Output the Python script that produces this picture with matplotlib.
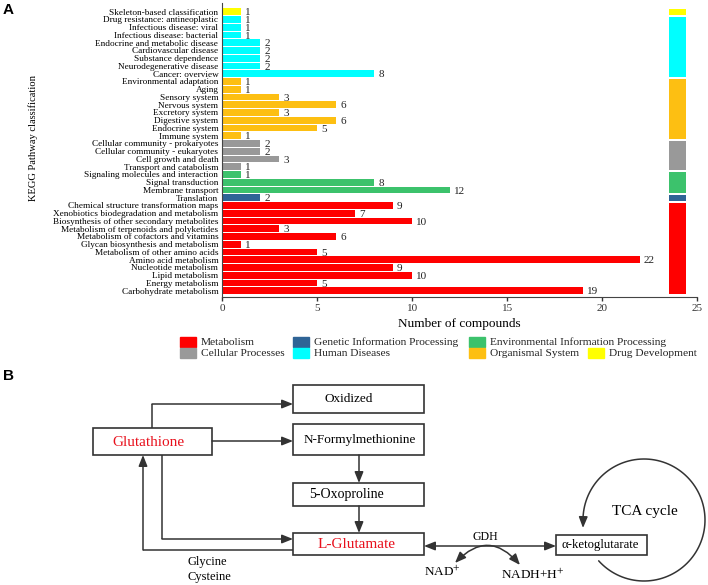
import numpy as np
import matplotlib
matplotlib.use('Agg')
import matplotlib.pyplot as plt
from matplotlib.patches import Rectangle, FancyArrowPatch
from matplotlib.path import Path

plt.rcParams['font.family'] = ['Liberation Serif', 'DejaVu Serif']
plt.rcParams['mathtext.fontset'] = 'stix'

# ---- data (panel A), listed top to bottom ----
categories = [
    'Skeleton-based classification',
    'Drug resistance: antineoplastic', 'Infectious disease: viral',
    'Infectious disease: bacterial', 'Endocrine and metabolic disease',
    'Cardiovascular disease', 'Substance dependence',
    'Neurodegenerative disease', 'Cancer: overview',
    'Environmental adaptation', 'Aging', 'Sensory system', 'Nervous system',
    'Excretory system', 'Digestive system', 'Endocrine system', 'Immune system',
    'Cellular community - prokaryotes', 'Cellular community - eukaryotes',
    'Cell growth and death', 'Transport and catabolism',
    'Signaling molecules and interaction', 'Signal transduction',
    'Membrane transport',
    'Translation',
    'Chemical structure transformation maps',
    'Xenobiotics biodegradation and metabolism',
    'Biosynthesis of other secondary metabolites',
    'Metabolism of terpenoids and polyketides',
    'Metabolism of cofactors and vitamins',
    'Glycan biosynthesis and metabolism', 'Metabolism of other amino acids',
    'Amino acid metabolism', 'Nucleotide metabolism', 'Lipid metabolism',
    'Energy metabolism', 'Carbohydrate metabolism',
]
counts = [1,
          1, 1, 1, 2, 2, 2, 2, 8,
          1, 1, 3, 6, 3, 6, 5, 1,
          2, 2, 3, 1,
          1, 8, 12,
          2,
          9, 7, 10, 3, 6, 1, 5, 22, 9, 10, 5, 19]

# groups in the order they appear from the top, with how many rows each
group_names = ['Drug Development', 'Human Diseases', 'Organismal System',
               'Cellular Processes', 'Environmental Information Processing',
               'Genetic Information Processing', 'Metabolism']
group_sizes = [1, 8, 8, 4, 3, 1, 12]
group_colors = {
    'Metabolism': '#ff0000',
    'Genetic Information Processing': '#2f6496',
    'Environmental Information Processing': '#3cc26c',
    'Cellular Processes': '#999999',
    'Human Diseases': '#00ffff',
    'Organismal System': '#fdbf12',
    'Drug Development': '#ffff00',
}

row_group = []
for g, s in zip(group_names, group_sizes):
    row_group += [g] * s
bar_colors = [group_colors[g] for g in row_group]

fig = plt.figure(figsize=(7.08, 5.85), dpi=100)
W, H = 708, 585

# ---- panel A ----
ax = fig.add_axes([222.5 / W, 1 - 297 / H, 474.5 / W, 294 / H])
y = np.arange(len(categories))
ax.barh(y, counts, height=0.86, color=bar_colors)
for yi, c in zip(y, counts):
    ax.text(c + 0.2, yi + 0.15, str(c), va='center', ha='left', fontsize=8,
            color='#222222')

# group colour strip on the right
start = 0
for g, s in zip(group_names, group_sizes):
    ax.barh(start + (s - 1) / 2, 0.85, left=23.55, height=s - 0.25,
            color=group_colors[g])
    start += s

ax.set_xlim(0, 25)
ax.set_ylim(len(categories) - 1 + 0.81, -1.12)
ax.set_yticks(y)
ax.set_yticklabels(categories, fontsize=6.7)
ax.tick_params(axis='y', length=0, pad=3)
ax.set_xticks([0, 5, 10, 15, 20, 25])
ax.tick_params(axis='x', length=3, width=1, labelsize=8, pad=2,
               colors='#333333')
ax.spines['top'].set_visible(False)
ax.spines['right'].set_visible(False)
ax.spines['left'].set_color('#444444')
ax.spines['bottom'].set_color('#444444')
ax.set_xlabel('Number of compounds', fontsize=9.5, labelpad=4)
ax.set_ylabel('KEGG Pathway classification', fontsize=7.6)
ax.yaxis.set_label_coords((38 - 222.5) / 474.5, (297 - 138) / 294)

# ---- overlay in pixel coordinates: legend, labels, panel B ----
ov = fig.add_axes([0, 0, 1, 1])
ov.set_xlim(0, W)
ov.set_ylim(H, 0)
ov.axis('off')

ov.text(3, 10, 'A', fontsize=11, fontweight='bold', family='Liberation Sans',
        va='center')
ov.text(3, 376, 'B', fontsize=11, fontweight='bold', family='Liberation Sans',
        va='center')

legend_order = ['Metabolism', 'Genetic Information Processing',
                'Environmental Information Processing', 'Cellular Processes',
                'Human Diseases', 'Organismal System', 'Drug Development']
legend_pos = [(180, 337), (293, 337), (469, 337), (180, 348), (293, 348),
              (469, 348), (588, 348)]
for name, (lx, ly) in zip(legend_order, legend_pos):
    ov.add_patch(Rectangle((lx, ly), 16, 10, color=group_colors[name]))
    ov.text(lx + 21, ly + 5.5, name, fontsize=8.2, va='center', ha='left',
            color='#222222')

# panel B
lc = '#333333'


def box(x0, y0, x1, y1):
    ov.add_patch(Rectangle((x0, y0), x1 - x0, y1 - y0, fill=False,
                           edgecolor=lc, lw=1.2))


def arrow(p0, p1, style='-|>'):
    ov.add_patch(FancyArrowPatch(p0, p1, arrowstyle=style + ',head_length=0.55,head_width=0.22',
                                 mutation_scale=12, color=lc, lw=1.1,
                                 shrinkA=0, shrinkB=0))


def line(xs, ys):
    ov.plot(xs, ys, color=lc, lw=1.1, solid_capstyle='butt')


box(293, 385, 424, 413)
box(93, 428, 212, 455)
box(293, 424, 424, 455)
box(293, 483, 424, 506)
box(293, 533, 424, 555)
box(556, 535, 647, 555)

ov.text(349, 399, 'Oxidized', fontsize=9.5, ha='center', va='center')
ov.text(148, 442, 'Glutathione', fontsize=11, ha='center', va='center',
        color='#e8101c')
ov.text(360, 440, 'N-Formylmethionine', fontsize=9.5, ha='center', va='center')
ov.text(346, 494.5, '5-Oxoproline', fontsize=10, ha='center', va='center')
ov.text(357, 544, 'L-Glutamate', fontsize=11, ha='center', va='center',
        color='#e8101c')
ov.text(600, 545, '\u03b1-ketoglutarate', fontsize=9.2, ha='center',
        va='center')

line([152, 152], [428, 404])
arrow((152, 404), (293, 404))
arrow((212, 441), (293, 441))
arrow((359, 455), (359, 483))
arrow((359, 506), (359, 533))
line([162, 162], [455, 539])
arrow((162, 539), (293, 539))
line([293, 143], [550, 550])
arrow((143, 550), (143, 455))

arrow((424, 546), (556, 546), style='<|-|>')
ov.text(485, 537, 'GDH', fontsize=8.5, ha='center', va='center')
ov.add_patch(FancyArrowPatch((455, 563), (520, 565),
                             connectionstyle='arc3,rad=-0.55',
                             arrowstyle='<|-|>,head_length=0.55,head_width=0.22',
                             mutation_scale=12, color=lc, lw=1.1,
                             shrinkA=0, shrinkB=0))
ov.text(442, 572, r'NAD$^{+}$', fontsize=9.5, ha='center', va='center')
ov.text(533, 575, r'NADH+H$^{+}$', fontsize=9.5, ha='center', va='center')
ov.text(187, 562, 'Glycine', fontsize=9, ha='left', va='center')
ov.text(187, 577, 'Cysteine', fontsize=9, ha='left', va='center')

# TCA cycle arc
cx, cy, r = 644, 520, 61
th = np.radians(np.linspace(222, 546, 120))
pts = np.column_stack([cx + r * np.cos(th), cy - r * np.sin(th)])
pts[-1] = (583, 528)
ov.add_patch(FancyArrowPatch(path=Path(pts),
                             arrowstyle='-|>,head_length=0.55,head_width=0.22',
                             mutation_scale=12, color=lc, lw=1.1))
ov.text(645, 512, 'TCA cycle', fontsize=11, ha='center', va='center')

fig.savefig('out.png', dpi=100)
